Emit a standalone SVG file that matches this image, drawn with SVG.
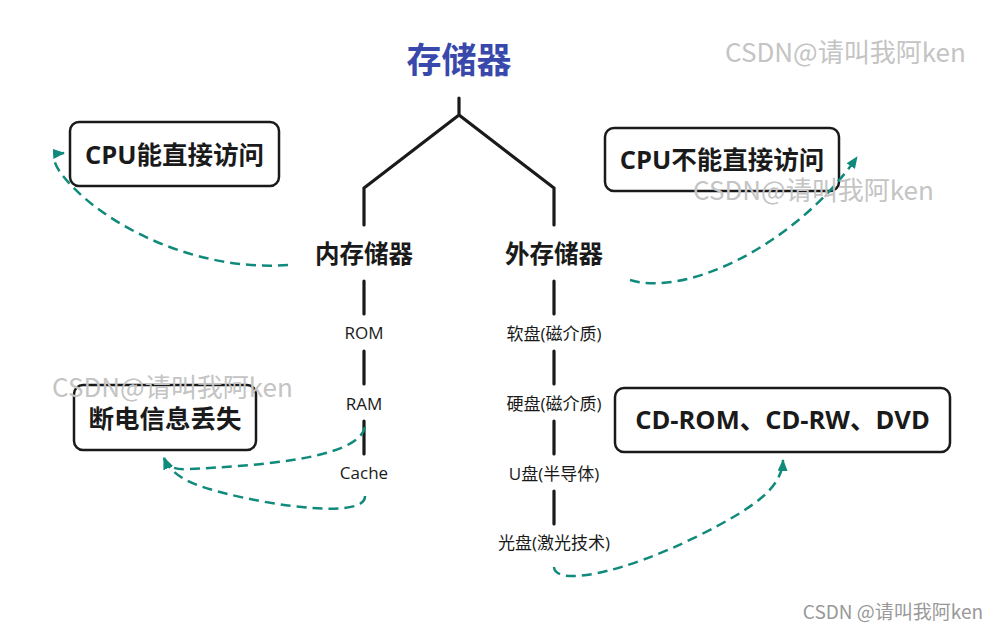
<svg xmlns="http://www.w3.org/2000/svg" width="998" height="633" viewBox="0 0 998 633">
<defs>
<style>
.tree{fill:none;stroke:#1a1a1a;stroke-width:3.2;stroke-linecap:round;stroke-linejoin:miter}
.box{fill:#fff;stroke:#1a1a1a;stroke-width:2.5}
.bt{font-family:"Open Sans","Noto Sans CJK SC",sans-serif;font-weight:bold;font-size:25.5px;fill:#1a1a1a;text-anchor:middle;dominant-baseline:central}
.lbl{font-family:"Open Sans","Noto Sans CJK SC",sans-serif;font-weight:bold;font-size:24.5px;fill:#1a1a1a;text-anchor:middle;dominant-baseline:central}
.sm{font-family:"Open Sans","Noto Sans CJK SC",sans-serif;font-size:17px;fill:#1a1a1a;text-anchor:middle;dominant-baseline:central}
.rel{fill:none;stroke:#0f8a7b;stroke-width:2.5;stroke-dasharray:10 6;stroke-linecap:butt}
.wm{font-family:"Noto Sans CJK SC",sans-serif;font-size:26px;fill:#c4c4c4}
</style>
<marker id="ah" viewBox="0 0 12 10" refX="11" refY="5" markerWidth="12" markerHeight="10" orient="auto" markerUnits="userSpaceOnUse">
<path d="M0,0 L12,5 L0,10 z" fill="#0f8a7b"/>
</marker>
</defs>
<rect width="998" height="633" fill="#fff"/>

<g id="root">
<text x="459" y="57" font-family="Noto Sans CJK SC,sans-serif" font-weight="bold" font-size="35" fill="#3949ab" text-anchor="middle" dominant-baseline="central">存储器</text>
</g>

<g id="tree-lines">
<path class="tree" d="M459,98 V115 M364,225 V188 L459,115 L554,188 V225"/>
<path class="tree" d="M364,281 V314 M364,351 V384 M364,421 V454"/>
<path class="tree" d="M554,281 V314 M554,351 V384 M554,421 V454 M554,491 V524"/>
</g>

<g id="internal"><text class="lbl" x="364" y="253">内存储器</text></g>
<g id="external"><text class="lbl" x="554" y="253">外存储器</text></g>

<g id="rom"><text class="sm" x="364" y="332">ROM</text></g>
<g id="ram"><text class="sm" x="364" y="403">RAM</text></g>
<g id="cache"><text class="sm" x="364" y="472">Cache</text></g>

<g id="floppy"><text class="sm" x="554" y="333">软盘(磁介质)</text></g>
<g id="hdd"><text class="sm" x="554" y="403">硬盘(磁介质)</text></g>
<g id="usb"><text class="sm" x="554" y="473">U盘(半导体)</text></g>
<g id="optical"><text class="sm" x="554" y="542">光盘(激光技术)</text></g>

<g id="cpu-direct">
<rect class="box" x="70" y="122" width="209" height="64" rx="9"/>
<text class="bt" x="174.5" y="154">CPU能直接访问</text>
</g>
<g id="cpu-indirect">
<rect class="box" x="605" y="128" width="234" height="63" rx="9"/>
<text class="bt" x="722" y="159">CPU不能直接访问</text>
</g>
<g id="power-loss">
<rect class="box" x="74" y="385" width="182" height="65" rx="9"/>
<text class="bt" x="165" y="418">断电信息丢失</text>
</g>
<g id="discs">
<rect class="box" x="615" y="388" width="335" height="64" rx="9"/>
<text class="bt" x="782.5" y="419">CD-ROM、CD-RW、DVD</text>
</g>

<g id="connectors">
<path class="rel" marker-end="url(#ah)" d="M288,265 C190,272 95,220 60,172 C52,160 52,154 64,153"/>
<path class="rel" marker-end="url(#ah)" d="M630,280 C690,298 800,240 857,157"/>
<path class="rel" marker-end="url(#ah)" d="M365,427 C358,460 250,466 190,469 C176,470 168,468 164,458"/>
<path class="rel" marker-end="url(#ah)" d="M365,496 C366,518 280,508 220,492 C190,484 172,476 164,458"/>
<path class="rel" marker-end="url(#ah)" d="M554,567 C555,586 620,575 700,535 C755,507 782,488 783,460"/>
</g>

<g id="watermarks">
<text class="wm" x="725" y="62">CSDN@请叫我阿ken</text>
<text class="wm" x="693" y="200">CSDN@请叫我阿ken</text>
<text class="wm" x="52" y="397">CSDN@请叫我阿ken</text>
<text x="983" y="619" font-family="Noto Sans CJK SC,sans-serif" font-size="19" fill="#999" text-anchor="end">CSDN @请叫我阿ken</text>
</g>
</svg>
